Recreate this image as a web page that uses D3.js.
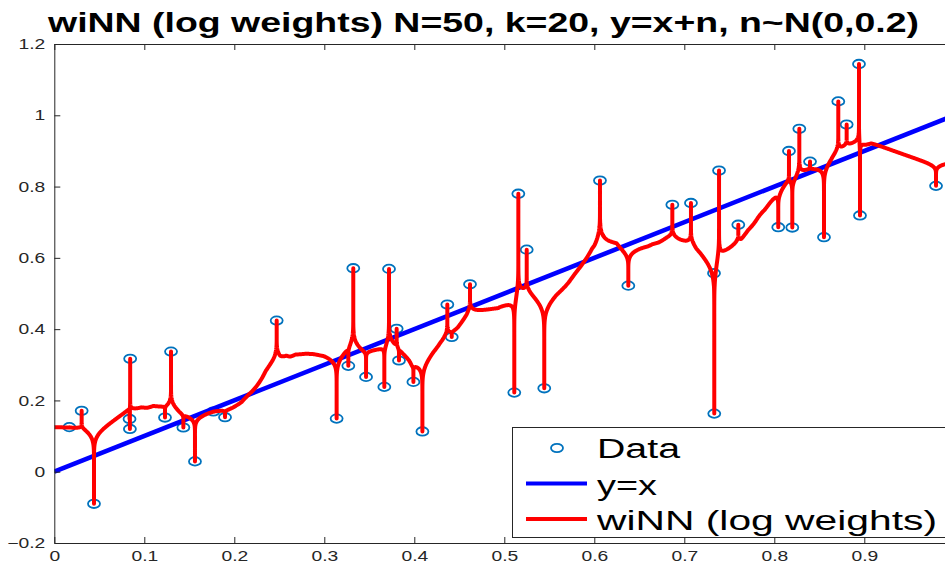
<!DOCTYPE html>
<html>
<head>
<meta charset="utf-8">
<script src="https://cdn.jsdelivr.net/npm/d3@7"></script>
<style>
  body { margin: 0; background: #fff; }
  svg { display: block; }
</style>
</head>
<body>
<script>
// Sample: N=50 noisy observations of y = x + n
const dataX = [0.0167, 0.0304, 0.0441, 0.0843, 0.0836, 0.0840, 0.1297, 0.1230, 0.1434, 0.1563,
               0.1767, 0.1897, 0.2471, 0.3137, 0.3267, 0.3322, 0.3464, 0.3719, 0.3667, 0.3804,
               0.3830, 0.3990, 0.4090, 0.4367, 0.4416, 0.4619, 0.5111, 0.5156, 0.5249, 0.5444,
               0.6063, 0.6378, 0.6867, 0.7074, 0.7386, 0.7330, 0.7333, 0.7600, 0.8044, 0.8200,
               0.8163, 0.8278, 0.8397, 0.8552, 0.8711, 0.8804, 0.8941, 0.8952, 0.9797, 0.9990];
const dataY = [0.125, 0.171, -0.090, 0.317, 0.148, 0.120, 0.337, 0.152, 0.124, 0.029,
               0.169, 0.153, 0.424, 0.149, 0.297, 0.571, 0.266, 0.569, 0.238, 0.401,
               0.312, 0.252, 0.113, 0.469, 0.378, 0.526, 0.222, 0.780, 0.623, 0.234,
               0.817, 0.522, 0.749, 0.754, 0.845, 0.557, 0.163, 0.693, 0.686, 0.685,
               0.900, 0.962, 0.870, 0.658, 1.039, 0.974, 1.144, 0.719, 0.802, 0.870];
// neighbours that carry a weight; distances are scaled by the next one out
const NB = 10;

const xTicks = [0, 0.1, 0.2, 0.3, 0.4, 0.5, 0.6, 0.7, 0.8, 0.9];
const yTicks = [-0.2, 0, 0.2, 0.4, 0.6, 0.8, 1, 1.2];
const titleText = "wiNN (log weights) N=50, k=20, y=x+n, n~N(0,0.2)";
const legendLabels = ["Data", "y=x", "wiNN (log weights)"];

const W = 945, H = 564;
const AX = "#262626";
const FONT = "'Liberation Sans', Arial, Helvetica, sans-serif";
const SX = 1.33; // horizontal stretch of the tick label glyphs

const x = d3.scaleLinear().domain([0, 1]).range([54.3, 954.3]);
const y = d3.scaleLinear().domain([-0.2, 1.2]).range([543, 44]);

// Weighted interpolated nearest neighbours with log weights phi(t) = -log(t)
function winn(q) {
  const nb = dataX.map((xi, i) => ({ d: Math.abs(q - xi), y: dataY[i] }))
                  .sort((a, b) => a.d - b.d);
  if (nb[0].d === 0) {
    return d3.mean(nb.filter(n => n.d === 0), n => n.y);
  }
  const R = nb[NB].d;
  let sw = 0, swy = 0;
  for (let i = 0; i < NB; i++) {
    const w = -Math.log(nb[i].d / R);
    sw += w; swy += w * nb[i].y;
  }
  return swy / sw;
}

// evaluation grid: uniform, plus log-spaced offsets around every sample point
let qs = d3.range(0, 2001).map(i => i / 2000);
dataX.forEach(xi => {
  qs.push(xi);
  for (let m = 1.5; m <= 9; m += 0.25) {
    const o = Math.pow(10, -m);
    qs.push(xi - o, xi + o);
  }
});
qs = Array.from(new Set(qs.filter(q => q >= 0 && q <= 1))).sort((a, b) => a - b);
const fit = qs.map(q => [q, winn(q)]);

const svg = d3.select("body").append("svg")
  .attr("width", W).attr("height", H)
  .style("font-family", FONT);

svg.append("defs").append("clipPath").attr("id", "plot")
  .append("rect")
  .attr("x", x(0)).attr("y", y(1.2))
  .attr("width", x(1) - x(0)).attr("height", y(-0.2) - y(1.2));

const plot = svg.append("g").attr("clip-path", "url(#plot)");

// data markers
plot.append("g").selectAll("ellipse")
  .data(dataX.map((d, i) => [d, dataY[i]]))
  .join("ellipse")
  .attr("cx", d => x(d[0])).attr("cy", d => y(d[1]))
  .attr("rx", 6).attr("ry", 4.2)
  .attr("fill", "none").attr("stroke", "#0072BD").attr("stroke-width", 1.8);

// reference line y = x
plot.append("path")
  .datum([0, 1])
  .attr("d", d3.line().x(d => x(d)).y(d => y(d)))
  .attr("fill", "none").attr("stroke", "#0000ff").attr("stroke-width", 4.6);

// wiNN fit
plot.append("path")
  .datum(fit)
  .attr("d", d3.line().x(d => x(d[0])).y(d => y(d[1])))
  .attr("fill", "none").attr("stroke", "#ff0000").attr("stroke-width", 4)
  .attr("stroke-linejoin", "round");

// legend
const lg = svg.append("g");
lg.append("rect").attr("x", 512.5).attr("y", 427.5).attr("width", 445).attr("height", 110)
  .attr("fill", "#fff").attr("stroke", AX).attr("stroke-width", 1);
lg.append("ellipse").attr("cx", 557).attr("cy", 448).attr("rx", 6).attr("ry", 4.2)
  .attr("fill", "none").attr("stroke", "#0072BD").attr("stroke-width", 1.8);
lg.append("line").attr("x1", 526).attr("x2", 587).attr("y1", 483.5).attr("y2", 483.5)
  .attr("stroke", "#0000ff").attr("stroke-width", 4);
lg.append("line").attr("x1", 526).attr("x2", 587).attr("y1", 519).attr("y2", 519)
  .attr("stroke", "#ff0000").attr("stroke-width", 4);
const lgBase = [458, 495, 530];
const lgLen = [83, 60, 340];
lg.selectAll("text.lab").data(legendLabels).join("text")
  .attr("class", "lab")
  .attr("x", 597).attr("y", (d, i) => lgBase[i])
  .attr("textLength", (d, i) => lgLen[i]).attr("lengthAdjust", "spacingAndGlyphs")
  .attr("font-size", 27).attr("fill", "#000")
  .text(d => d);

// axes (box with inward ticks)
function styleAxis(g) {
  g.select(".domain").attr("stroke", AX).attr("stroke-width", 1);
  g.selectAll(".tick line").attr("stroke", AX).attr("stroke-width", 1);
  g.selectAll(".tick text").attr("fill", AX).attr("font-size", 14.5)
    .attr("font-family", FONT);
}
const fmt = d => d3.format("")(+d.toFixed(1));

svg.append("g").attr("transform", `translate(0,${y(-0.2)})`)
  .call(d3.axisBottom(x).tickValues(xTicks).tickFormat(fmt).tickSize(-6).tickSizeOuter(0).tickPadding(8))
  .call(styleAxis)
  .call(g => g.selectAll(".tick text").attr("transform", `scale(${SX},1)`));

svg.append("g").attr("transform", `translate(0,${y(1.2)})`)
  .call(d3.axisTop(x).tickValues(xTicks).tickFormat("").tickSize(-6).tickSizeOuter(0))
  .call(styleAxis);

svg.append("g").attr("transform", `translate(${x(0)},0)`)
  .call(d3.axisLeft(y).tickValues(yTicks).tickFormat(fmt).tickSize(-6).tickSizeOuter(0).tickPadding(9))
  .call(styleAxis)
  .call(g => g.selectAll(".tick text")
    .attr("x", -9 / SX)
    .attr("transform", `scale(${SX},1)`));

svg.append("g").attr("transform", `translate(${x(1)},0)`)
  .call(d3.axisRight(y).tickValues(yTicks).tickFormat("").tickSize(-6).tickSizeOuter(0))
  .call(styleAxis);

// title
svg.append("text")
  .attr("x", 48).attr("y", 32)
  .attr("textLength", 871).attr("lengthAdjust", "spacingAndGlyphs")
  .attr("font-size", 27).attr("font-weight", "bold").attr("fill", "#000")
  .text(titleText);
</script>
</body>
</html>
